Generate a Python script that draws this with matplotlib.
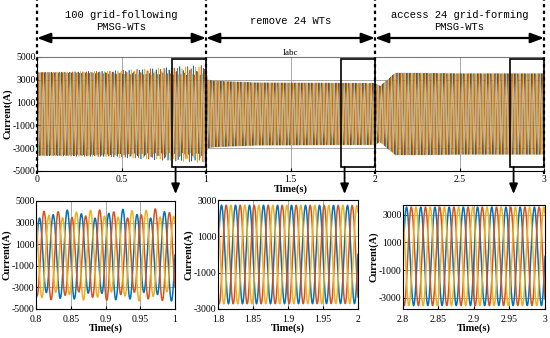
import numpy as np
import matplotlib
matplotlib.use("Agg")
import matplotlib.pyplot as plt
from matplotlib.patches import Rectangle
from matplotlib.transforms import blended_transform_factory

plt.rcParams["axes.unicode_minus"] = False

# -----------------------------
# data
# -----------------------------
f_grid = 50.0          # Hz, fundamental
f_sub = 37.0           # Hz, oscillation mode seen before t=1 s
phase_colors = ["#0072BD", "#D95319", "#EDB120"]

# fundamental amplitude envelope (A)
env_t = [0.0, 0.5, 1.0, 1.01, 1.05, 1.3, 2.0, 2.03, 2.12, 2.2, 2.5, 3.0]
env_amp = [3650, 3650, 3850, 3000, 2900, 2750, 2700, 2450, 3600, 3600, 3550, 3550]

# oscillation component amplitude (A)
osc_t = [0.0, 0.4, 0.7, 1.0, 1.005, 3.0]
osc_amp = [0, 120, 300, 450, 0, 0]

stage_edges = [0, 1, 2, 3]
stage_labels = ["100 grid-following\nPMSG-WTs", "remove 24 WTs",
                "access 24 grid-forming\nPMSG-WTs"]

main_yticks = [-5000, -3000, -1000, 1000, 3000, 5000]
main_xticks = [0, 0.5, 1, 1.5, 2, 2.5, 3]
main_xticklabels = ["0", "0.5", "1", "1.5", "2", "2.5", "3"]

zoom_windows = [(0.8, 1.0), (1.8, 2.0), (2.8, 3.0)]
zoom_ylims = [(-5000, 5000), (-3000, 3000), (-3800, 3700)]
zoom_yticks = [[-5000, -3000, -1000, 1000, 3000, 5000],
               [-3000, -1000, 1000, 3000],
               [-3000, -1000, 1000, 3000]]
zoom_xticklabels = [["0.8", "0.85", "0.9", "0.95", "1"],
                    ["1.8", "1.85", "1.9", "1.95", "2"],
                    ["2.8", "2.85", "2.9", "2.95", "3"]]
zoom_box_y = (-4650, 4820)

# -----------------------------
# build waveforms
# -----------------------------
t = np.linspace(0, 3, 60001)
A = np.interp(t, env_t, env_amp)
B = np.interp(t, osc_t, osc_amp)
shifts = [0, -2 * np.pi / 3, 2 * np.pi / 3]
currents = [A * np.sin(2 * np.pi * f_grid * t + s) + B * np.sin(2 * np.pi * f_sub * t - s)
            for s in shifts]

serif = "Liberation Serif"
mono = "Liberation Mono"

fig = plt.figure(figsize=(5.5, 3.38), dpi=100)

# -----------------------------
# main axes
# -----------------------------
ax = fig.add_axes([37 / 550, 1 - 171 / 338, 507 / 550, 114 / 338])
for cur, c in zip(currents, phase_colors):
    ax.plot(t, cur, color=c, lw=0.45)
ax.set_xlim(0, 3)
ax.set_ylim(-5000, 5000)
ax.set_yticks(main_yticks)
ax.set_xticks(main_xticks)
ax.set_xticklabels(main_xticklabels)
ax.grid(True, color="#9a9a9a", lw=0.6)
ax.set_axisbelow(True)
ax.tick_params(direction="in", length=2, labelsize=7)
ax.tick_params(axis="y", pad=1)
ax.tick_params(axis="x", pad=3)
for lab in ax.get_xticklabels() + ax.get_yticklabels():
    lab.set_family(serif)
ax.spines["top"].set_color("#777777")
ax.spines["right"].set_visible(False)
ax.set_title("Iabc", fontsize=6.5, family=serif, pad=1)
ax.set_xlabel("Time(s)", fontsize=7.5, family=serif, fontweight="bold", labelpad=0)
ax.set_ylabel("Current(A)", fontsize=7.5, family=serif, fontweight="bold", labelpad=0)

# zoom boxes
for (x0, x1) in zoom_windows:
    ax.add_patch(Rectangle((x0, zoom_box_y[0]), x1 - x0, zoom_box_y[1] - zoom_box_y[0],
                           fill=False, ec="black", lw=1.2, clip_on=False, zorder=5))

trans = blended_transform_factory(ax.transData, fig.transFigure)

# stage dividers
for xe in stage_edges:
    ax.plot([xe, xe], [1 - 174 / 338, 1.0], transform=trans, color="black",
            lw=1.6, ls=(0, (1.5, 1.5)), clip_on=False, zorder=6)

# stage arrows and labels
y_arrow = 1 - 38 / 338
for i, lab in enumerate(stage_labels):
    x0, x1 = stage_edges[i], stage_edges[i + 1]
    ax.annotate("", xy=(x1, y_arrow), xytext=(x0, y_arrow), xycoords=trans, textcoords=trans,
                arrowprops=dict(arrowstyle="<|-|>,head_length=0.8,head_width=0.3",
                                color="black", lw=1.6, shrinkA=0, shrinkB=0))
    ax.text((x0 + x1) / 2, 1 - 21 / 338, lab, transform=trans, ha="center", va="center",
            fontsize=7.6, family=mono, linespacing=1.3)

# -----------------------------
# zoomed axes
# -----------------------------
zoom_rects = [[36 / 550, 1 - 309 / 338, 139 / 550, 108 / 338],
              [218 / 550, 1 - 309 / 338, 140 / 550, 109 / 338],
              [403 / 550, 1 - 309 / 338, 142 / 550, 104 / 338]]

for k, rect in enumerate(zoom_rects):
    zx = fig.add_axes(rect)
    x0, x1 = zoom_windows[k]
    m = (t >= x0 - 1e-9) & (t <= x1 + 1e-9)
    for cur, c in zip(currents, phase_colors):
        zx.plot(t[m], cur[m], color=c, lw=1.1)
    zx.set_xlim(x0, x1)
    zx.set_ylim(*zoom_ylims[k])
    zx.set_yticks(zoom_yticks[k])
    zx.set_xticks(np.linspace(x0, x1, 5))
    zx.set_xticklabels(zoom_xticklabels[k])
    zx.grid(True, color="#9a9a9a", lw=0.6)
    zx.tick_params(direction="in", length=2, labelsize=7)
    zx.tick_params(axis="y", pad=1)
    zx.tick_params(axis="x", pad=4)
    for lab in zx.get_xticklabels() + zx.get_yticklabels():
        lab.set_family(serif)
    zx.set_xlabel("Time(s)", fontsize=7.5, family=serif, fontweight="bold", labelpad=0)
    zx.set_ylabel("Current(A)", fontsize=7.5, family=serif, fontweight="bold", labelpad=0)

    # arrow from zoom box down to this panel
    xa = x0 + 0.02
    ax.annotate("", xy=(xa, 1 - 194 / 338), xytext=(xa, zoom_box_y[0]),
                xycoords=trans, textcoords="data",
                arrowprops=dict(arrowstyle="-|>,head_length=0.6,head_width=0.25",
                                color="black", lw=1.3, shrinkA=0, shrinkB=0))

fig.savefig("out.png", dpi=100)
